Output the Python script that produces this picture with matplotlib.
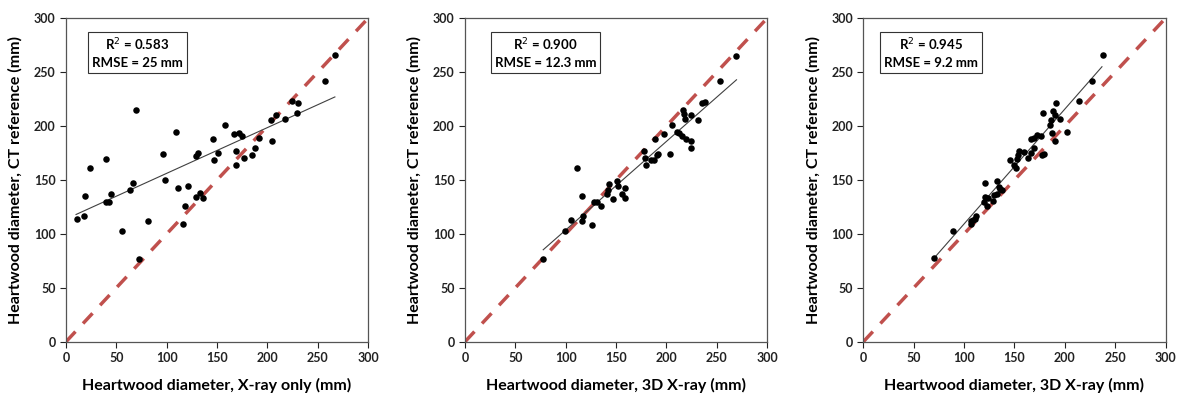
import numpy as np
from matplotlib import pyplot as plt

plt.rcParams['font.family'] = ['Lato', 'DejaVu Sans']

# panel 1: X-ray only
x1 = [10.6, 17.9, 19.2, 23.5, 39.4, 39.4, 42.7, 44.7, 55.6, 63.2, 66.2, 69.5, 72.8, 81.0,
      95.9, 98.6, 109.5, 111.1, 116.1, 118.4, 121.1, 128.7, 131.3, 129.3, 133.0, 136.3,
      146.2, 147.2, 151.2, 157.5, 167.0, 171.4, 174.7, 169.0, 168.4, 177.0, 185.2, 187.2,
      191.2, 203.8, 204.8, 208.7, 217.0, 224.6, 229.9, 228.9, 257.4, 267.0]
y1 = [113.4, 116.8, 135.0, 161.0, 169.0, 129.8, 129.5, 136.9, 102.6, 140.3, 146.8, 214.5,
      76.6, 111.9, 173.7, 149.6, 194.4, 142.8, 108.8, 125.8, 144.6, 172.7, 175.2, 133.8,
      137.5, 133.2, 188.2, 168.4, 174.9, 201.2, 192.8, 193.8, 190.7, 176.8, 163.8, 170.6,
      173.1, 179.2, 188.5, 205.8, 185.7, 210.4, 206.7, 222.8, 221.6, 212.0, 242.0, 265.8]
fit1_x = [10, 267]
fit1_y = [118, 227]

# panel 2: 3D X-ray
x2 = [77.7, 99.2, 105.2, 111.5, 115.8, 115.8, 117.4, 126.4, 128.4, 130.7, 135.0, 140.6,
      142.2, 142.9, 147.2, 150.5, 151.5, 155.5, 158.8, 159.1, 178.0, 178.6, 179.3, 184.6,
      187.2, 188.2, 190.5, 191.5, 198.1, 203.8, 205.1, 211.0, 212.4, 216.7, 217.7, 218.3,
      215.7, 219.6, 224.6, 224.6, 224.3, 230.9, 235.5, 238.8, 253.1, 269.6]
y2 = [76.6, 102.3, 113.1, 160.7, 134.7, 111.6, 116.2, 108.5, 129.2, 129.2, 125.5, 136.9,
      140.3, 146.5, 132.6, 148.6, 144.3, 137.2, 133.5, 142.5, 176.5, 170.0, 163.5, 168.7,
      168.4, 187.9, 173.4, 174.3, 192.5, 173.7, 200.9, 194.4, 193.4, 214.5, 210.8, 206.4,
      190.4, 188.2, 210.1, 185.7, 179.2, 205.8, 221.3, 222.2, 242.0, 265.4]
fit2_x = [77.7, 269.6]
fit2_y = [85.3, 242.9]

# panel 3: 3D X-ray (corrected)
x3 = [69.8, 89.4, 106.6, 107.3, 108.6, 111.3, 111.6, 119.3, 120.3, 120.9, 122.3, 123.9,
      128.9, 129.6, 132.2, 132.9, 134.2, 135.5, 137.9, 145.8, 149.5, 151.8, 152.2, 153.8,
      154.2, 159.5, 163.8, 166.1, 169.8, 166.8, 169.4, 172.8, 176.4, 177.1, 179.4, 178.7,
      185.0, 186.0, 187.4, 188.7, 190.7, 191.7, 195.7, 190.4, 202.0, 214.0, 226.9, 237.9]
y3 = [77.2, 103.0, 108.9, 112.3, 112.9, 113.5, 116.3, 130.0, 134.3, 147.0, 125.9, 133.1,
      130.3, 136.2, 149.2, 137.4, 143.9, 142.0, 140.5, 168.7, 164.1, 161.0, 169.7, 172.8,
      177.1, 175.6, 170.3, 175.2, 179.6, 188.3, 188.9, 192.0, 190.4, 173.4, 173.7, 211.8,
      201.3, 206.0, 193.9, 214.3, 210.6, 221.2, 206.9, 185.8, 194.5, 223.0, 242.2, 265.8]
fit3_x = [71.4, 236.9]
fit3_y = [78.8, 255.0]

xlabels = ['Heartwood diameter, X-ray only (mm)',
           'Heartwood diameter, 3D X-ray (mm)',
           'Heartwood diameter, 3D X-ray (mm)']
stats = ['R$^2$ = 0.583\nRMSE = 25 mm',
         'R$^2$ = 0.900\nRMSE = 12.3 mm',
         'R$^2$ = 0.945\nRMSE = 9.2 mm']
box_x = [71, 80, 67]

panels = [(x1, y1, fit1_x, fit1_y), (x2, y2, fit2_x, fit2_y), (x3, y3, fit3_x, fit3_y)]
lefts = [0.056, 0.3947, 0.7329]

fig = plt.figure(figsize=(11.78, 3.96), dpi=100)
ticks = [0, 50, 100, 150, 200, 250, 300]
for i, (xs, ys, fx, fy) in enumerate(panels):
    ax = fig.add_axes([lefts[i], 0.137, 0.2565, 0.817])
    ax.plot([0, 300], [0, 300], color='#C0504D', lw=2.5, dashes=(4, 3.2), zorder=1)
    ax.plot(fx, fy, color='#404040', lw=0.8, zorder=2)
    ax.scatter(xs, ys, s=22, color='black', zorder=3, linewidths=0)
    ax.set_xlim(0, 300)
    ax.set_ylim(0, 300)
    ax.set_xticks(ticks)
    ax.set_yticks(ticks)
    ax.tick_params(direction='out', length=4, width=0.8, labelsize=9, colors='#222222')
    for lab in ax.get_xticklabels() + ax.get_yticklabels():
        lab.set_fontweight('bold')
    for sp in ax.spines.values():
        sp.set_color('#555555')
        sp.set_linewidth(0.9)
    ax.set_xlabel(xlabels[i], fontsize=11.5, fontweight='bold', labelpad=10)
    ax.set_ylabel('Heartwood diameter, CT reference (mm)', fontsize=11.5,
                  fontweight='bold', labelpad=8)
    ax.text(box_x[i], 268, stats[i], ha='center', va='center', fontsize=9.5,
            fontweight='bold', linespacing=1.45,
            bbox=dict(boxstyle='square,pad=0.3', fc='white', ec='#333333', lw=0.8))

plt.savefig('out.png', dpi=100)
